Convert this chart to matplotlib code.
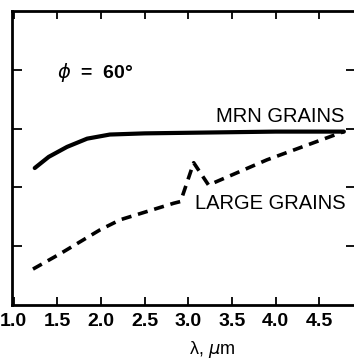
import matplotlib.pyplot as plt

plt.rcParams["font.family"] = ["Liberation Sans", "DejaVu Sans"]
plt.rcParams["mathtext.fontset"] = "dejavusans"

# scattering curves vs wavelength
mrn_wl = [1.24, 1.40, 1.61, 1.84, 2.10, 2.50, 3.00, 3.50, 4.00, 4.50, 4.78]
mrn_val = [2.33, 2.52, 2.69, 2.83, 2.90, 2.92, 2.93, 2.94, 2.95, 2.95, 2.95]

large_wl = [1.22, 1.53, 1.99, 2.22, 2.83, 2.91, 3.06, 3.23, 3.90, 4.78]
large_val = [0.61, 0.87, 1.28, 1.45, 1.73, 1.76, 2.42, 2.04, 2.47, 2.95]

xticks = [1.0, 1.5, 2.0, 2.5, 3.0, 3.5, 4.0, 4.5]
xticklabels = ["1.0", "1.5", "2.0", "2.5", "3.0", "3.5", "4.0", "4.5"]
yticks = [1, 2, 3, 4]

fig = plt.figure(figsize=(3.54, 3.60), dpi=100)
ax = fig.add_axes([0.034, 0.153, 0.972, 0.816])

ax.plot(mrn_wl, mrn_val, color="black", lw=3.0, solid_capstyle="round",
        solid_joinstyle="round")
line, = ax.plot(large_wl, large_val, color="black", lw=2.6,
                dash_capstyle="butt")
line.set_dashes((2.8, 1.9))

ax.set_xlim(0.98, 4.92)
ax.set_ylim(0, 5)
ax.set_xticks(xticks)
ax.set_xticklabels(xticklabels, fontsize=14, fontweight="bold")
ax.set_yticks(yticks)
ax.set_yticklabels([])
ax.tick_params(axis="x", direction="in", length=6, width=1.3, pad=6,
               top=True)
ax.tick_params(axis="y", direction="in", length=7, width=1.3, right=True)
for s in ax.spines.values():
    s.set_linewidth(2)

ax.text(1.50, 3.96, r"$\phi$  =  60°", fontsize=14, fontweight="bold",
        ha="left", va="center")
ax.text(4.78, 3.20, "MRN GRAINS", fontsize=14.5, ha="right", va="center")
ax.text(4.80, 1.73, "LARGE GRAINS", fontsize=14.5, ha="right",
        va="center")

fig.text(212 / 354, 11 / 360, r"λ, $\mu$m", fontsize=13, ha="center",
         va="center")

fig.savefig("out.png", dpi=100)
